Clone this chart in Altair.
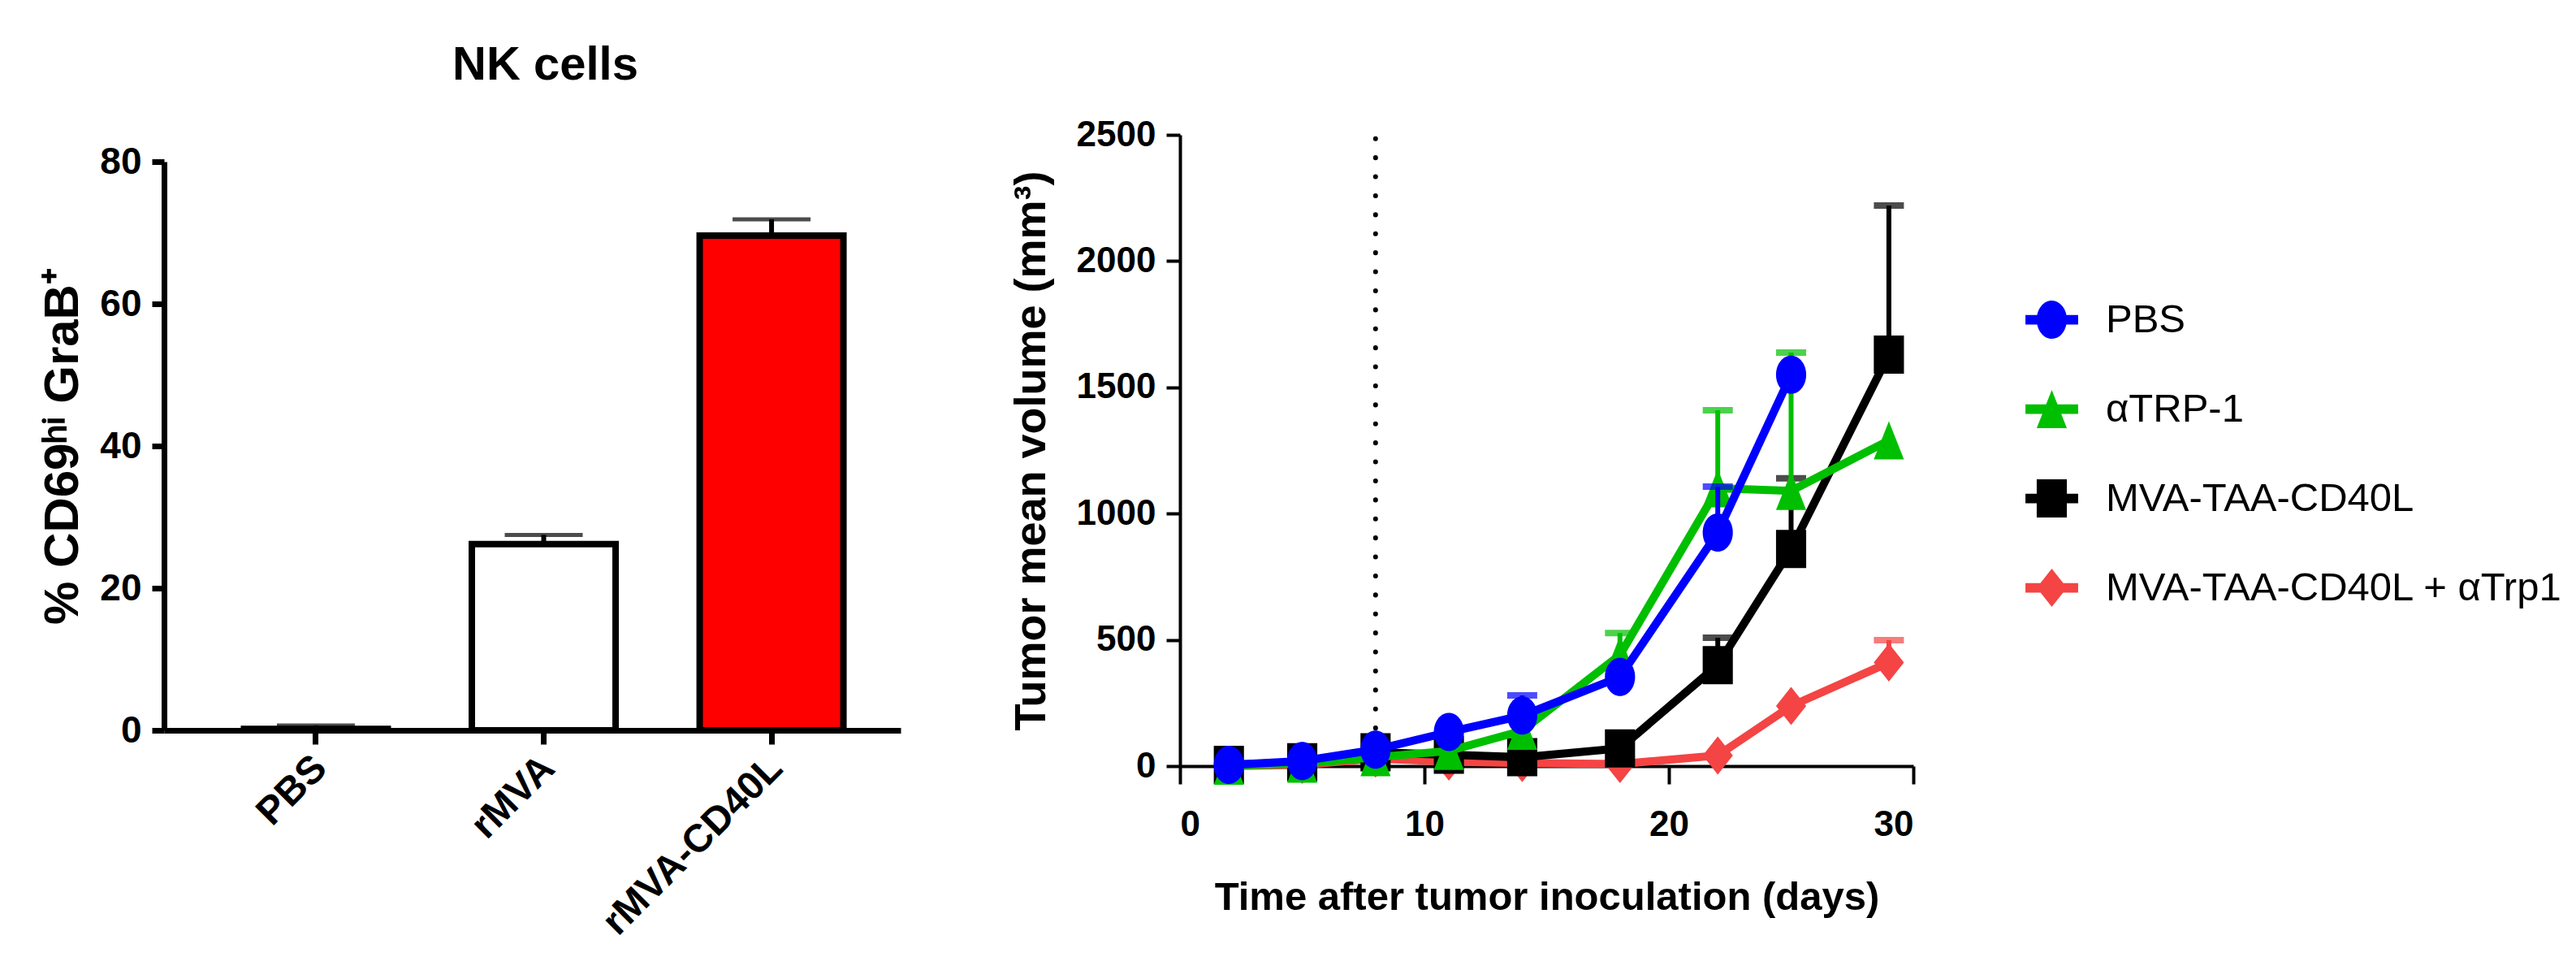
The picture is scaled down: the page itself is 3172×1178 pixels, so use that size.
import altair as alt
import pandas as pd

# ---------------- data: left panel (NK cells) ----------------
groups = ["PBS", "rMVA", "rMVA-CD40L"]
pct_mean = [0.2, 26.2, 69.6]
pct_err = [0.5, 1.3, 2.3]
bar_fill = ["#ffffff", "#ffffff", "#ff0000"]

# ---------------- data: right panel (tumor growth) ----------------
days = [2, 5, 8, 11, 14, 18, 22, 25, 29]
series_names = ["PBS", "αTRP-1", "MVA-TAA-CD40L", "MVA-TAA-CD40L + αTrp1"]
series_colors = ["#0000ff", "#00bf00", "#000000", "#f44444"]
pbs_mean = [5, 20, 65, 135, 200, 353, 925, 1550, None]
pbs_err = [None, None, None, None, 80, None, 182, None, None]
atrp1_mean = [2, 10, 35, 60, 140, 440, 1100, 1090, 1290]
atrp1_err = [None, None, None, None, None, 87, 309, 548, None]
mva_mean = [5, 15, 55, 45, 35, 70, 400, 860, 1630]
mva_err = [None, None, None, None, None, None, 108, 280, 590]
combo_mean = [0, 5, 30, 18, 12, 8, 42, 238, 410]
combo_err = [None, None, None, None, None, None, None, None, 89]
treatment_day = [8]

FONT = "Liberation Sans, Arial, sans-serif"
NARROW = "'Liberation Sans Narrow', 'Arial Narrow', 'Liberation Sans', Arial, sans-serif"

# ---------------- marker paths ----------------
W = 0.79
K = 0.5523


def ellipse(w):
    return (f"M{-w},0C{-w},{-K} {-K*w},-1 0,-1C{K*w},-1 {w},{-K} {w},0"
            f"C{w},{K} {K*w},1 0,1C{-K*w},1 {-w},{K} {-w},0Z")


marker_paths = [
    ellipse(W),
    f"M0,-1L{W},1L{-W},1Z",
    f"M{-W},-1H{W}V1H{-W}Z",
    f"M0,-1L{W},0L0,1L{-W},0Z",
]
LINE = "M-1.38,-0.25H1.38V0.25H-1.38Z"
legend_paths = [LINE + p for p in marker_paths]
MSIZE = 2209

# ---------------- left chart ----------------
LW = 907
LH = 733      # view height (plot area occupies the lower 700 px)
LTOP = 33
GAP = 344
RW = 903
RH = 777

bar_df = pd.DataFrame({
    "group": groups,
    "mean": pct_mean,
    "upper": [m + e for m, e in zip(pct_mean, pct_err)],
    "fill": bar_fill,
})

xband = alt.X(
    "group:N", sort=groups, title=None,
    scale=alt.Scale(paddingInner=0.369, paddingOuter=0.301, align=0.583),
    axis=alt.Axis(labelAngle=-45, labelAlign="right", labelBaseline="middle",
                  labelFont=NARROW, labelFontSize=48, labelFontWeight="bold",
                  labelPadding=22, labelOffset=6, labelLimit=1000, tickSize=17,
                  tickWidth=7, domainWidth=7,
                  labelColor="black", tickColor="black", domainColor="black"),
)
yleft = alt.Y(
    "mean:Q", scale=alt.Scale(domain=[0, 80], nice=False, range=[LH, LTOP]),
    axis=alt.Axis(values=[0, 20, 40, 60, 80], title="% CD69ʰⁱ GraB⁺",
                  titleFont=FONT, titleFontSize=60, titleFontWeight="bold",
                  titlePadding=14, labelFont=NARROW, labelFontSize=46,
                  labelFontWeight="bold", labelPadding=13, tickSize=15,
                  tickWidth=7, domainWidth=7, grid=False, labelColor="black",
                  titleColor="black", tickColor="black", domainColor="black"),
)

bars = alt.Chart(bar_df).mark_bar(stroke="black", strokeWidth=8, strokeJoin="miter").encode(
    x=xband, y=yleft, fill=alt.Fill("fill:N", scale=None))
bar_err = alt.Chart(bar_df).mark_rule(color="black", strokeWidth=6).encode(
    x=alt.X("group:N", sort=groups), y="mean:Q", y2="upper:Q")
bar_cap = alt.Chart(bar_df).mark_tick(color="black", orient="horizontal", size=96, thickness=5).encode(
    x=alt.X("group:N", sort=groups), y="upper:Q")

left = alt.layer(bars, bar_err, bar_cap).properties(
    width=LW, height=LH,
    title=alt.TitleParams("NK cells", font=FONT, fontSize=58, fontWeight="bold",
                          color="black", frame="group", anchor="middle", dx=16, offset=56),
)

# ---------------- right chart ----------------
rows = []
for name, means, errs in zip(series_names,
                             [pbs_mean, atrp1_mean, mva_mean, combo_mean],
                             [pbs_err, atrp1_err, mva_err, combo_err]):
    for d, m, e in zip(days, means, errs):
        if m is None:
            continue
        rows.append({"series": name, "day": d, "value": m,
                     "upper": (m + e) if e is not None else None})
growth = pd.DataFrame(rows)

xq = alt.X("day:Q", scale=alt.Scale(domain=[0, 30], nice=False),
           axis=alt.Axis(values=[0, 10, 20, 30], title="Time after tumor inoculation (days)",
                         titleFont=FONT, titleFontSize=49, titleFontWeight="bold",
                         titlePadding=43, labelFont=FONT, labelFontSize=44,
                         labelFontWeight="bold", labelPadding=28, tickSize=22,
                         tickWidth=4, domainWidth=4, grid=False, labelColor="black",
                         titleColor="black", tickColor="black", domainColor="black"))
yq = alt.Y("value:Q", scale=alt.Scale(domain=[0, 2500], nice=False),
           axis=alt.Axis(values=[0, 500, 1000, 1500, 2000, 2500], format="d",
                         title="Tumor mean volume (mm³)",
                         titleFont=FONT, titleFontSize=54, titleFontWeight="bold",
                         titlePadding=28, labelFont=FONT, labelFontSize=44,
                         labelFontWeight="bold", labelPadding=13, tickSize=17,
                         tickWidth=4, domainWidth=4, grid=False, labelColor="black",
                         titleColor="black", tickColor="black", domainColor="black"))

vline_df = pd.DataFrame({"day": treatment_day, "lo": [0], "hi": [2500]})
vline = alt.Chart(vline_df).mark_rule(color="black", strokeWidth=6, strokeCap="round",
                                      strokeDash=[0.1, 23.3]).encode(
    x=xq, y=alt.Y("lo:Q"), y2="hi:Q")

layers = [vline]
for idx in [3, 2, 1, 0]:
    name = series_names[idx]
    col = series_colors[idx]
    base = alt.Chart(growth).transform_filter(alt.datum.series == name)
    layers.append(base.mark_line(color=col, strokeWidth=10, strokeJoin="miter").encode(
        x=xq, y=yq, order="day:Q"))
    errbase = base.transform_filter("isValid(datum.upper)")
    layers.append(errbase.mark_rule(color=col, strokeWidth=6).encode(x="day:Q", y="value:Q", y2="upper:Q"))
    layers.append(errbase.mark_tick(color=col, orient="horizontal", size=37, thickness=8).encode(
        x="day:Q", y="upper:Q"))
    layers.append(base.mark_point(filled=True, shape=marker_paths[idx], size=MSIZE, color=col,
                                  opacity=1, strokeWidth=0).encode(x="day:Q", y="value:Q"))

# legend is positioned in top-level coordinates (origin = left plot's top-left)
legend_def = alt.Legend(orient="none", legendX=LW + GAP + 1049, legendY=203, title=None,
                        symbolSize=MSIZE, symbolStrokeWidth=0, symbolOpacity=1,
                        labelFont=FONT, labelFontSize=49, labelColor="black",
                        labelOffset=42, rowPadding=60, padding=0, labelLimit=800)
legend_layer = alt.Chart(growth).transform_filter("false").mark_point(filled=True, opacity=1).encode(
    x="day:Q", y="value:Q",
    color=alt.Color("series:N", scale=alt.Scale(domain=series_names, range=series_colors), legend=legend_def),
    shape=alt.Shape("series:N", scale=alt.Scale(domain=series_names, range=legend_paths), legend=legend_def),
)
layers.append(legend_layer)

right = alt.layer(*layers).properties(width=RW, height=RH)

chart = alt.hconcat(left, right, spacing=GAP, bounds="flush").configure_view(
    stroke=None).properties(padding={"left": 39, "top": 44, "right": 0, "bottom": 0})

chart.save("out.html", embed_options={"renderer": "svg", "actions": False})
